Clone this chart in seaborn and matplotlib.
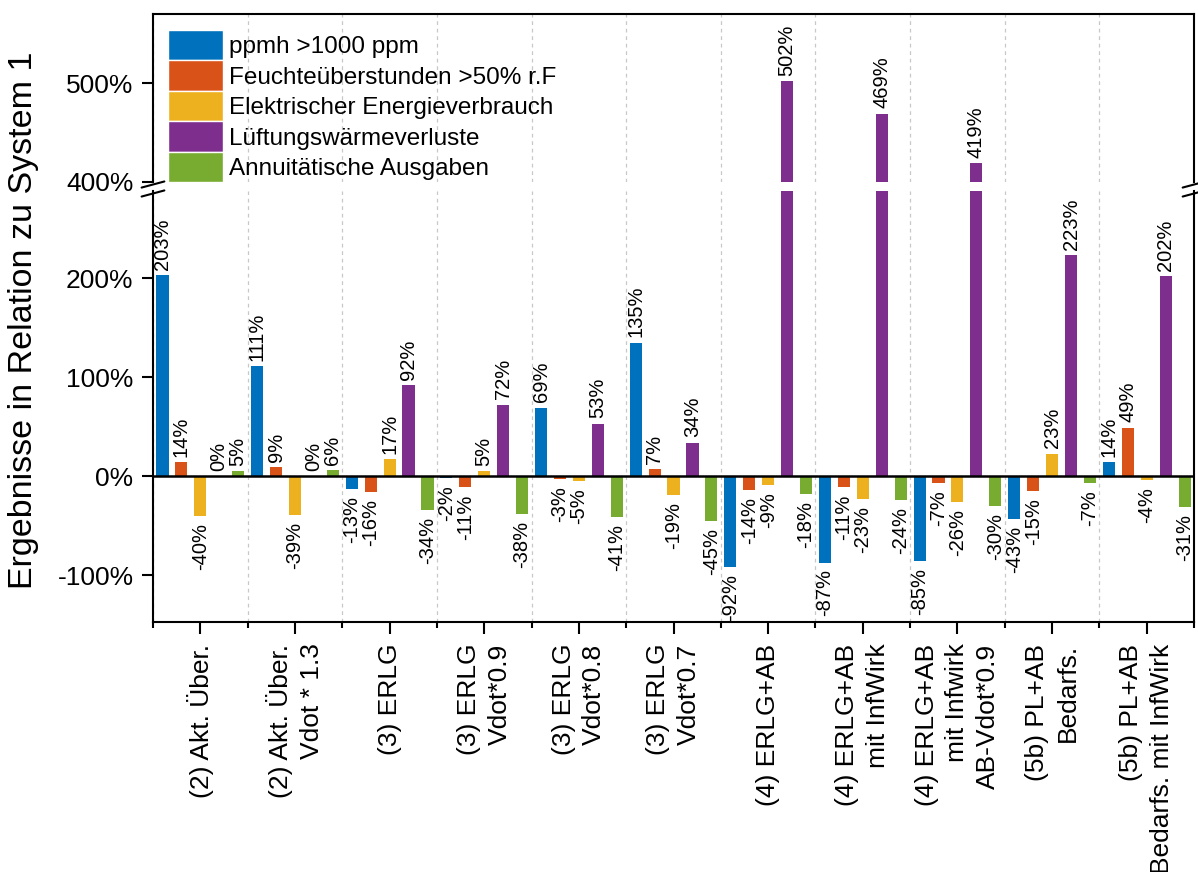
import numpy as np
import pandas as pd
import matplotlib.pyplot as plt
import seaborn as sns
from matplotlib.patches import Patch
from matplotlib.lines import Line2D
from matplotlib.ticker import FuncFormatter

groups = ["(2) Akt. Über.", "(2) Akt. Über.\nVdot * 1.3", "(3) ERLG", "(3) ERLG\nVdot*0.9",
          "(3) ERLG\nVdot*0.8", "(3) ERLG\nVdot*0.7", "(4) ERLG+AB", "(4) ERLG+AB\nmit InfWirk",
          "(4) ERLG+AB\nmit Infwirk\nAB-Vdot*0.9", "(5b) PL+AB\nBedarfs.",
          "(5b) PL+AB\nBedarfs. mit InfWirk"]
metrics = ["ppmh >1000 ppm", "Feuchteüberstunden >50% r.F", "Elektrischer Energieverbrauch",
           "Lüftungswärmeverluste", "Annuitätische Ausgaben"]

# values in % relative to system 1
ppmh = [203, 111, -13, -2, 69, 135, -92, -87, -85, -43, 14]
feuchte = [14, 9, -16, -11, -3, 7, -14, -11, -7, -15, 49]
strom = [-40, -39, 17, 5, -5, -19, -9, -23, -26, 23, -4]
lueftung = [0, 0, 92, 72, 53, 34, 502, 469, 419, 223, 202]
annuitaet = [5, 6, -34, -38, -41, -45, -18, -24, -30, -7, -31]

colors = ["#0072BD", "#D95319", "#EDB120", "#7E2F8E", "#77AC30"]

rows = []
for name, vals in zip(metrics, [ppmh, feuchte, strom, lueftung, annuitaet]):
    for g, v in zip(groups, vals):
        rows.append({"Variante": g, "Kennwert": name, "Wert": v})
df = pd.DataFrame(rows)

sns.set_theme(style="white")
plt.rcParams["font.family"] = ["Liberation Sans", "DejaVu Sans"]
plt.rcParams["axes.linewidth"] = 1.5
for key in ("text.color", "axes.labelcolor", "xtick.color", "ytick.color", "axes.edgecolor"):
    plt.rcParams[key] = "black"

fig = plt.figure(figsize=(11.98, 8.72), dpi=100)
ax_top = fig.add_axes([0.1277, 0.7913, 0.869, 0.1927])
ax_bot = fig.add_axes([0.1277, 0.2867, 0.869, 0.4943])
ax_bot.patch.set_alpha(0)

for ax in (ax_top, ax_bot):
    sns.barplot(data=df, x="Variante", y="Wert", hue="Kennwert", order=groups, hue_order=metrics,
                palette=colors, saturation=1, width=1.0, gap=0.36, errorbar=None,
                linewidth=0, legend=False, ax=ax)
    ax.set_xlabel("")
    ax.set_ylabel("")
    ax.set_xlim(-0.5, 10.5)
    ax.set_xticks(np.arange(-0.5, 11, 1), minor=True)
    ax.grid(axis="x", which="minor", linestyle=(0, (3, 3)), color="#c8c8c8", linewidth=0.9)
    ax.grid(axis="x", which="major", visible=False)
    ax.yaxis.set_major_formatter(FuncFormatter(lambda v, p: f"{v:.0f}%"))
    ax.tick_params(axis="y", direction="out", length=8, width=1.5, labelsize=19, pad=6, left=True)
    for s in ax.spines.values():
        s.set_color("black")
        s.set_linewidth(1.5)


def label_bars(ax, keep):
    for cont in ax.containers:
        for bar in cont:
            v = bar.get_height()
            if not keep(v):
                continue
            x = bar.get_x() + bar.get_width() / 2
            ax.annotate(f"{v:.0f}%", (x, v), xytext=(0, 4 if v >= 0 else -5),
                        textcoords="offset points", rotation=90, ha="center",
                        va="bottom" if v >= 0 else "top", fontsize=14.5)


ax_top.set_ylim(400, 570)
ax_top.set_yticks([400, 500])
ax_top.spines["bottom"].set_visible(False)
ax_top.tick_params(axis="x", which="both", bottom=False, labelbottom=False)
label_bars(ax_top, lambda v: v > 290)

ax_bot.set_ylim(-147, 288)
ax_bot.set_yticks([-100, 0, 100, 200])
ax_bot.spines["top"].set_visible(False)
ax_bot.axhline(0, color="black", linewidth=1.8, zorder=3)
ax_bot.set_xticks(np.arange(len(groups)))
ax_bot.set_xticklabels(groups, rotation=90, fontsize=19, multialignment="right", linespacing=1.35)
ax_bot.tick_params(axis="x", which="major", direction="out", length=8.5, width=1.5, pad=7, bottom=True)
ax_bot.tick_params(axis="x", which="minor", direction="out", length=4.5, width=1.5, bottom=True)
label_bars(ax_bot, lambda v: v <= 290)

handles = [Patch(facecolor=c, edgecolor="white", linewidth=1) for c in colors]
leg = ax_top.legend(handles, metrics, loc="upper left", bbox_to_anchor=(0.1402, 0.9656),
                    bbox_transform=fig.transFigure, frameon=False, borderpad=0,
                    handlelength=2.25, handleheight=1.55, labelspacing=0, handletextpad=0.25,
                    fontsize=17.5, borderaxespad=0)
leg.set_zorder(10)

# axis break marks
for xs in (0.1277, 0.9967):
    for yc in (0.7884, 0.7781):
        fig.add_artist(Line2D([xs - 0.0095, xs + 0.0095], [yc - 0.0035, yc + 0.0035],
                              color="black", linewidth=1.5, transform=fig.transFigure))

fig.text(0.02, 0.633, "Ergebnisse in Relation zu System 1", rotation=90,
         ha="center", va="center", fontsize=24.5)

fig.savefig("out.png", dpi=100)
